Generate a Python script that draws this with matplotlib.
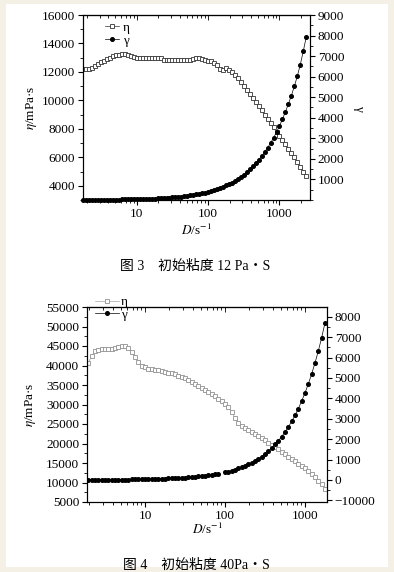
import matplotlib.pyplot as plt
from matplotlib.patches import Rectangle
from matplotlib.ticker import MultipleLocator, FixedLocator, FuncFormatter, NullFormatter
import numpy as np

plt.rcParams['font.family'] = ['Liberation Serif', 'Noto Sans CJK SC']
plt.rcParams['mathtext.fontset'] = 'stix'
plt.rcParams['font.size'] = 9.5

# ---- Fig 3: initial viscosity 12 Pa.S ----
D3 = [1.78, 1.96, 2.15, 2.37, 2.61, 2.87, 3.16, 3.48, 3.83, 4.22, 4.64, 5.11, 5.62, 6.19, 6.81, 7.50, 8.25, 9.09,
      10.0, 11.0, 12.1, 13.3, 14.7, 16.2, 17.8, 19.6, 21.5, 23.7, 26.1, 28.7, 31.6, 34.8, 38.3, 42.2, 46.4, 51.1,
      56.2, 61.9, 68.1, 75.0, 82.5, 90.9,
      100, 110, 121, 133, 147, 162, 178, 196, 215, 237, 261, 287, 316, 348, 383, 422, 464, 511, 562, 619, 681, 750,
      825, 909,
      1000, 1101, 1212, 1334, 1468, 1616, 1778, 1957, 2154, 2371]
eta3 = [12200, 12200, 12220, 12300, 12450, 12570, 12680, 12780, 12900, 13000, 13100, 13170, 13220, 13240, 13250,
        13200, 13150, 13050,
        13000, 13000, 12980, 12950, 13000, 13000, 13000, 13000, 12950, 12870, 12850, 12850, 12850, 12850, 12850,
        12850, 12850, 12850, 12850, 12900, 12950, 12950, 12930, 12850,
        12800, 12750, 12650, 12500, 12200, 12150, 12300, 12150, 12000, 11800, 11550, 11300, 11000, 10750, 10450,
        10200, 9900, 9600, 9300, 9000, 8700, 8400, 8100, 7800,
        7500, 7200, 6900, 6600, 6300, 6000, 5650, 5350, 5000, 4700]
gamma3 = [7, 8, 9, 9, 10, 11, 13, 14, 15, 17, 19, 20, 22, 25, 27, 30, 33, 36,
          40, 44, 48, 53, 59, 65, 71, 78, 86, 95, 104, 115, 126, 139, 153, 169, 186, 204, 225, 248, 272, 300, 330, 364,
          400, 440, 483, 530, 585, 643, 706, 775, 850, 934, 1025, 1125, 1235, 1355, 1485, 1630, 1780, 1950, 2130,
          2330, 2540, 2770, 3020, 3300,
          3600, 3930, 4290, 4670, 5080, 5530, 6020, 6580, 7230, 7920]

# ---- Fig 4: initial viscosity 40 Pa.S ----
D4 = [1.96, 2.15, 2.37, 2.61, 2.87, 3.16, 3.48, 3.83, 4.22, 4.64, 5.11, 5.62, 6.19, 6.81, 7.50, 8.25, 9.09,
      10.0, 11.0, 12.1, 13.3, 14.7, 16.2, 17.8, 19.6, 21.5, 23.7, 26.1, 28.7, 31.6, 34.8, 38.3, 42.2, 46.4, 51.1,
      56.2, 61.9, 68.1, 75.0, 82.5, 90.9,
      100, 110, 121, 133, 147, 162, 178, 196, 215, 237, 261, 287, 316, 348, 383, 422, 464, 511, 562, 619, 681, 750,
      825, 909,
      1000, 1101, 1212, 1334, 1468, 1616, 1778]
eta4 = [40750, 42400, 43700, 43900, 44200, 44200, 44200, 44200, 44400, 44700, 45000, 45000, 44600, 43400, 42200,
        40900, 39900,
        39600, 39200, 39000, 38900, 38800, 38700, 38400, 38200, 38000, 37700, 37400, 37100, 36700, 36200, 35800,
        35300, 34800, 34200, 33700, 33200, 32700, 32100, 31500, 30800,
        30100, 29300, 28000, 26600, 25300, 24400, 23900, 23400, 22900, 22400, 21900, 21400, 20800, 20200, 19700,
        19100, 18500, 17800, 17200, 16600, 16000, 15400, 14800, 14200,
        13600, 13000, 12300, 11300, 10400, 9500, 8300]
gamma4 = [7, 8, 9, 10, 11, 12, 13, 14, 16, 17, 19, 21, 23, 25, 28, 31, 34,
          37, 41, 45, 49, 54, 60, 66, 73, 80, 88, 97, 106, 117, 129, 142, 156, 172, 189, 208, 229, 252, 278, 305,
          np.nan,
          375, 415, 460, 508, 563, 622, 688, 760, 840, 930, 1030, 1140, 1260, 1400, 1560, 1740, 1920, 2130, 2350,
          2600, 2870, 3170, 3500, 3870,
          4270, 4710, 5200, 5740, 6330, 6980, 7700]

right4_ticks = [-1000, 0, 1000, 2000, 3000, 4000, 5000, 6000, 7000, 8000]
right4_labels = ['\u221210000', '0', '1000', '2000', '3000', '4000', '5000', '6000', '7000', '8000']

W, H = 394, 572
fig = plt.figure(figsize=(W / 100, H / 100), dpi=100)
fig.patch.set_facecolor('#f4f0e6')
fig.add_artist(Rectangle((6 / W, 5 / H), (W - 12) / W, (H - 9) / H, transform=fig.transFigure,
                         facecolor='white', edgecolor='none', zorder=-10))


def style_axes(ax, ax2, xlim):
    ax.set_xscale('log')
    ax.set_xlim(*xlim)
    ax.xaxis.set_major_formatter(FuncFormatter(lambda v, p: f'{v:g}'))
    ax.xaxis.set_minor_formatter(NullFormatter())
    for a in (ax, ax2):
        a.tick_params(which='both', direction='out', pad=2, labelsize=9.5)
        a.tick_params(which='major', length=3.5, width=0.8)
        a.tick_params(which='minor', length=2, width=0.6)
        for s in a.spines.values():
            s.set_linewidth(0.8)
    # inward ticks along the top spine
    top = ax.secondary_xaxis('top')
    top.tick_params(which='both', direction='in', width=0.6)
    top.tick_params(which='major', length=3.5)
    top.tick_params(which='minor', length=2)
    top.xaxis.set_major_formatter(NullFormatter())
    top.xaxis.set_minor_formatter(NullFormatter())


# Fig 3
ax = fig.add_axes([83 / W, 1 - 200 / H, 227 / W, 185 / H])
ax2 = ax.twinx()
h1, = ax.plot(D3, eta3, '-s', color='#333333', mfc='white', ms=2.7, mew=0.6, lw=0.5)
h2, = ax2.plot(D3, gamma3, '-o', color='black', ms=2.6, lw=0.5, clip_on=False)
style_axes(ax, ax2, (1.76, 2680))
ax.set_ylim(3000, 16000)
ax.yaxis.set_major_locator(MultipleLocator(2000))
ax.yaxis.set_minor_locator(MultipleLocator(1000))
ax2.set_ylim(0, 9000)
ax2.yaxis.set_major_locator(FixedLocator(range(1000, 9001, 1000)))
ax2.yaxis.set_minor_locator(MultipleLocator(500))
ax.set_ylabel(r'$\eta$/mPa·s', labelpad=2)
ax2.set_ylabel('γ', rotation=270, labelpad=15)
ax.set_xlabel(r'$D$/s$^{-1}$', labelpad=2)
ax2.legend([h1, h2], ['η', 'γ'], loc='upper left', bbox_to_anchor=(0.07, 1.0), frameon=False,
           handlelength=1.0, handletextpad=0.3, labelspacing=0.05, borderpad=0, numpoints=1, fontsize=9.5)
fig.text(0.496, 1 - 266 / H, '图 3　初始粘度 12 Pa・S', ha='center', va='center', fontsize=10)

# Fig 4
bx = fig.add_axes([87 / W, 1 - 502 / H, 240 / W, 195 / H])
bx2 = bx.twinx()
g1, = bx.plot(D4, eta4, '-s', color='#909090', mfc='white', ms=2.7, mew=0.6, lw=0.4)
g2, = bx2.plot(D4, gamma4, '-o', color='black', ms=2.6, lw=0.5)
style_axes(bx, bx2, (1.88, 1884))
bx.set_ylim(5000, 55000)
bx.yaxis.set_major_locator(MultipleLocator(5000))
bx.yaxis.set_minor_locator(MultipleLocator(2500))
bx2.set_ylim(-1080, 8480)
bx2.set_yticks(right4_ticks, labels=right4_labels)
bx2.yaxis.set_minor_locator(MultipleLocator(500))
bx.set_ylabel(r'$\eta$/mPa·s', labelpad=6)
bx.set_xlabel(r'$D$/s$^{-1}$', labelpad=0)
bx2.legend([g1, g2], ['η', 'γ'], loc='upper left', bbox_to_anchor=(0.005, 1.09), frameon=False,
           handlelength=1.8, handletextpad=0.2, labelspacing=0.0, borderpad=0, numpoints=1, fontsize=9.5)
fig.text(0.4975, 1 - 565 / H, '图 4　初始粘度 40Pa・S', ha='center', va='center', fontsize=10)

fig.savefig('out.png', dpi=100, facecolor=fig.get_facecolor())
plt.close(fig)
